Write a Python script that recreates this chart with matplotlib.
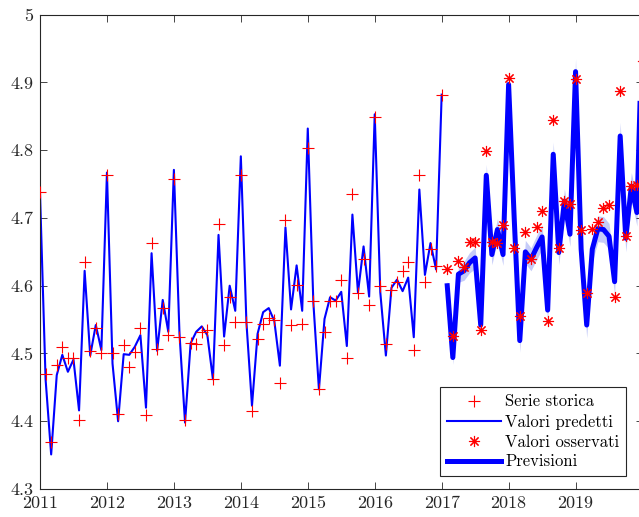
import numpy as np
import matplotlib
matplotlib.use("Agg")
import matplotlib.pyplot as plt
from matplotlib.lines import Line2D

# ---- data (monthly, starting Jan 2011) ----
start_year = 2011
serie_storica = [4.738, 4.469, 4.370, 4.483, 4.509, 4.494, 4.494, 4.402, 4.635, 4.503, 4.538, 4.500,
                 4.764, 4.500, 4.410, 4.512, 4.480, 4.502, 4.538, 4.409, 4.663, 4.507, 4.567, 4.528,
                 4.757, 4.525, 4.402, 4.515, 4.514, 4.532, 4.535, 4.463, 4.691, 4.512, 4.583, 4.546,
                 4.763, 4.546, 4.415, 4.522, 4.543, 4.553, 4.550, 4.456, 4.697, 4.542, 4.601, 4.544,
                 4.803, 4.577, 4.448, 4.532, 4.577, 4.577, 4.608, 4.494, 4.736, 4.589, 4.639, 4.572,
                 4.849, 4.600, 4.514, 4.594, 4.606, 4.622, 4.635, 4.505, 4.764, 4.605, 4.654, 4.629,
                 4.882]
valori_predetti = [4.737, 4.462, 4.351, 4.468, 4.498, 4.473, 4.491, 4.416, 4.622, 4.497, 4.542, 4.505,
                   4.767, 4.485, 4.400, 4.499, 4.498, 4.510, 4.527, 4.420, 4.648, 4.504, 4.579, 4.532,
                   4.771, 4.530, 4.398, 4.515, 4.532, 4.540, 4.527, 4.462, 4.675, 4.525, 4.600, 4.563,
                   4.791, 4.546, 4.423, 4.529, 4.561, 4.567, 4.548, 4.482, 4.686, 4.565, 4.630, 4.563,
                   4.832, 4.575, 4.447, 4.551, 4.583, 4.578, 4.591, 4.511, 4.705, 4.590, 4.658, 4.584,
                   4.853, 4.590, 4.497, 4.597, 4.609, 4.592, 4.612, 4.524, 4.742, 4.616, 4.663, 4.624,
                   4.882]
# forecast period starts Feb 2017 (month index 73)
forecast_start = 73
valori_osservati = [4.625, 4.526, 4.636, 4.628, 4.664, 4.665, 4.534, 4.799, 4.664, 4.663, 4.690,
                    4.906, 4.655, 4.556, 4.680, 4.640, 4.686, 4.711, 4.548, 4.844, 4.656, 4.725, 4.720,
                    4.905, 4.682, 4.589, 4.683, 4.694, 4.714, 4.719, 4.583, 4.888, 4.673, 4.747, 4.748,
                    4.931]
previsioni = [4.600, 4.494, 4.617, 4.622, 4.634, 4.641, 4.542, 4.763, 4.646, 4.683, 4.646,
              4.897, 4.700, 4.519, 4.650, 4.639, 4.656, 4.672, 4.564, 4.794, 4.649, 4.725, 4.676,
              4.916, 4.654, 4.542, 4.654, 4.684, 4.683, 4.673, 4.606, 4.821, 4.670, 4.747, 4.708,
              5.000]
previsioni_halfwidth = [0.008, 0.010, 0.012, 0.014, 0.015, 0.016, 0.015, 0.016, 0.015, 0.016, 0.016,
                        0.017, 0.017, 0.017, 0.017, 0.017, 0.018, 0.018, 0.018, 0.018, 0.018, 0.018, 0.018,
                        0.019, 0.019, 0.019, 0.019, 0.019, 0.019, 0.019, 0.019, 0.020, 0.020, 0.020, 0.020,
                        0.020]
year_ticks = [2011, 2012, 2013, 2014, 2015, 2016, 2017, 2018, 2019]
y_ticks = [4.3, 4.4, 4.5, 4.6, 4.7, 4.8, 4.9, 5.0]
y_tick_labels = ["4.3", "4.4", "4.5", "4.6", "4.7", "4.8", "4.9", "5"]

plt.rcParams['font.family'] = ['cmr10', 'DejaVu Serif']
plt.rcParams['axes.formatter.use_mathtext'] = True
plt.rcParams['axes.unicode_minus'] = False

x_hist = start_year + np.arange(len(serie_storica)) / 12.0
x_pred = start_year + np.arange(len(valori_predetti)) / 12.0
x_fc = start_year + (forecast_start + np.arange(len(previsioni))) / 12.0
x_obs = start_year + (forecast_start + np.arange(len(valori_osservati))) / 12.0

W, H = 639, 517
fig = plt.figure(figsize=(W / 100, H / 100), dpi=100)
# axes extends slightly past the right edge of the image (as in the reference crop)
ax = fig.add_axes([40 / W, (H - 489) / H, 602.5 / W, 474.3 / H])

prev = np.array(previsioni)
hw = np.array(previsioni_halfwidth)
ax.fill_between(x_fc, prev - hw, prev + hw, color=(0.55, 0.6, 0.95), alpha=0.5, linewidth=0, zorder=1)
ax.plot(x_pred, valori_predetti, color='#0000ff', linewidth=1.5, zorder=2)
ax.plot(x_fc, previsioni, color='#0000ff', linewidth=3.6, zorder=3)
ax.plot(x_hist, serie_storica, linestyle='none', marker='+', color='#ff0000',
        markersize=8, markeredgewidth=0.8, zorder=4)
ax.plot(x_obs, valori_osservati, linestyle='none', marker=(8, 2, 0), color='#ff0000',
        markersize=8, markeredgewidth=0.8, zorder=5)

ax.set_xlim(2011, 2020)
ax.set_ylim(4.3, 5.0)
ax.set_xticks(year_ticks)
ax.set_xticklabels([str(y) for y in year_ticks])
ax.set_yticks(y_ticks)
ax.set_yticklabels(y_tick_labels)
ax.tick_params(direction='in', top=True, right=True, length=5, width=0.6,
               labelsize=13, colors='#262626', pad=5)
for s in ax.spines.values():
    s.set_color('#262626')
    s.set_linewidth(0.8)

handles = [
    Line2D([], [], linestyle='none', marker='+', color='#ff0000', markersize=8, markeredgewidth=0.8),
    Line2D([], [], color='#0000ff', linewidth=1.5),
    Line2D([], [], linestyle='none', marker=(8, 2, 0), color='#ff0000', markersize=8, markeredgewidth=0.8),
    Line2D([], [], color='#0000ff', linewidth=3.6),
]
labels = ["Serie storica", "Valori predetti", "Valori osservati", "Previsioni"]
# legend lower-right corner at pixel (626, 476)
ax_w, ax_h = 602.5, 474.3
leg = ax.legend(handles, labels, loc='lower right',
                bbox_to_anchor=((626 - 40) / ax_w, (489 - 476) / ax_h),
                fontsize=12, frameon=True, fancybox=False, framealpha=1, edgecolor='#262626',
                borderpad=0.4, labelspacing=0.27, handlelength=3.25, handletextpad=0.25,
                borderaxespad=0.0)
leg.get_frame().set_linewidth(0.8)

fig.savefig("out.png", dpi=100)
